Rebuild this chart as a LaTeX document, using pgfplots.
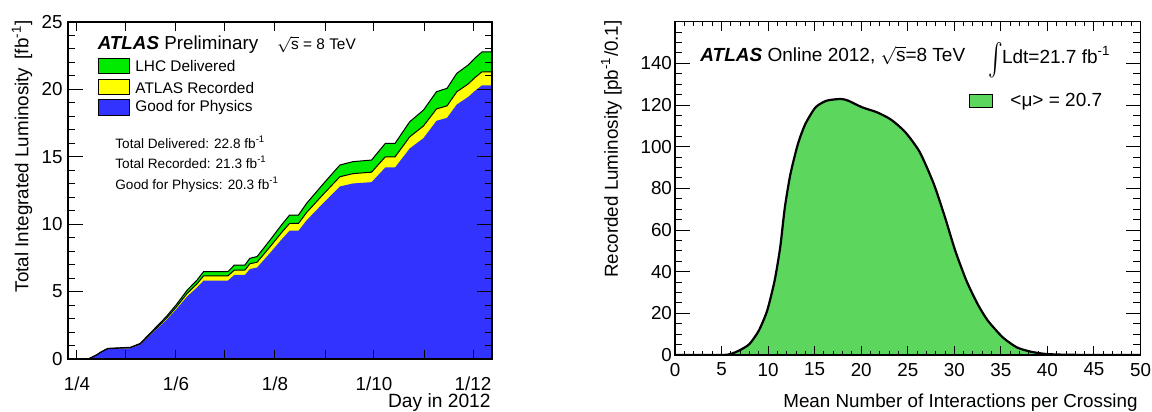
\documentclass[border=0pt]{standalone}
\usepackage{fontspec}
\setmainfont{Liberation Sans}
\usepackage{graphicx}
\usepackage{pgfplots}
\usepackage{pgfplotstable}
\pgfplotsset{compat=1.18}
\definecolor{lgreen}{RGB}{0,235,0}
\definecolor{lyellow}{RGB}{255,255,0}
\definecolor{lblue}{RGB}{51,51,255}
\definecolor{rgreen}{RGB}{92,214,92}

\pgfplotstableread{
day del rec good
86.5 0 0 0
99 0 0 0
104 0.30 0.29 0.28
107 0.54 0.52 0.50
111 0.79 0.76 0.73
125 0.87 0.84 0.80
131 1.16 1.11 1.06
136 1.78 1.70 1.63
142 2.52 2.41 2.31
147 3.14 3.00 2.88
153 4.00 3.82 3.66
160 5.12 4.88 4.66
166 5.86 5.58 5.31
170 6.48 6.16 5.81
185 6.48 6.16 5.81
189 6.97 6.60 6.24
195.5 6.97 6.60 6.24
198.5 7.47 7.06 6.67
203 7.60 7.18 6.79
211 8.83 8.33 7.87
218 9.94 9.37 8.86
223 10.68 10.06 9.52
228.5 10.68 10.06 9.52
233.5 11.55 10.87 10.29
244 13.03 12.25 11.60
254 14.39 13.52 12.80
262 14.64 13.75 13.02
273.5 14.76 13.86 13.12
282 16.00 15.00 14.21
288 16.00 15.00 14.21
297 17.60 16.48 15.62
305.5 18.47 17.29 16.39
313.5 19.83 18.55 17.67
320 20.08 18.78 17.89
326 21.19 19.82 18.88
333 21.81 20.40 19.44
337 22.30 20.86 19.87
341.5 22.78 21.30 20.30
348 22.78 21.30 20.30
}\lumi

\pgfplotstableread{
mu lumi
0 0
5.0 0
6.0 0.5
7.0 2.4
8.0 5.3
9.0 11.7
9.9 21.3
10.7 35.7
11.3 51.7
11.8 70.9
12.4 86.9
13.2 101.3
14.0 110.9
15.1 118.9
16.3 122.1
17.8 122.9
18.6 122.1
20.1 118.9
21.7 116.5
23.2 113.0
24.75 106.9
26.3 97.3
27.8 82.1
29.0 66.1
30.1 50.1
31.3 35.7
32.5 24.5
33.6 16.5
35.2 8.5
36.7 3.7
38.2 1.6
39.8 0.5
41.7 0.16
44.8 0
50 0
}\pileup

\pgfplotsset{
  rootstyle/.style={
    scale only axis,
    anchor=south west,
    axis on top,
    tick align=inside,
    xtick pos=both, ytick pos=both,
    xticklabel pos=bottom, yticklabel pos=left,
    axis line style={line width=0.6pt},
    every tick/.style={black, line width=0.5pt},
    ticklabel style={font=\fontsize{9.4}{11}\selectfont},
    /pgf/number format/assume math mode=true,
    xtick style={/pgfplots/major tick length=4.5pt, /pgfplots/minor tick length=2.2pt},
    ytick style={/pgfplots/major tick length=7.5pt, /pgfplots/minor tick length=3.7pt},
  }
}

\begin{document}
\begin{tikzpicture}[x=1pt,y=1pt]
\useasboundingbox (0,0) rectangle (576,206);

% ---------- left panel ----------
\begin{axis}[rootstyle,
  at={(34pt,26.5pt)}, width=212pt, height=168.5pt,
  xmin=86.5, xmax=347.7, ymin=0, ymax=25,
  xtick={92,122,153,183,214,245,275,306,336},
  xticklabels={1/4,,1/6,,1/8,,1/10,,1/12},
  xticklabel style={yshift=-5.5pt},
  ytick={0,5,...,25}, minor y tick num=4,
  yticklabel style={xshift=0.8pt},
]
\addplot[draw=none, fill=lgreen] table[x=day,y=del]{\lumi} \closedcycle;
\addplot[draw=none, fill=lyellow] table[x=day,y=rec]{\lumi} \closedcycle;
\addplot[draw=none, fill=lblue] table[x=day,y=good]{\lumi} \closedcycle;
\addplot[black, line width=0.5pt, no marks] table[x=day,y=del]{\lumi};
\addplot[black, line width=0.5pt, no marks] table[x=day,y=rec]{\lumi};
\end{axis}

\node[rotate=90, anchor=east, inner sep=0, font=\fontsize{9.4}{11}\selectfont] at (11,196) {Total Integrated Luminosity \,[fb\textsuperscript{-1}]};
\node[anchor=base east, inner sep=0, font=\fontsize{9.6}{11}\selectfont] at (245.5,2.1) {Day in 2012};

\node[anchor=base west, inner sep=0, font=\fontsize{9.4}{11}\selectfont] at (48.7,181) {\textbf{\textit{ATLAS}} Preliminary};
\node[anchor=base west, inner sep=0, font=\fontsize{7.7}{9}\selectfont] at (138.3,181) {$\sqrt{\mbox{s}}$ = 8 TeV};

\filldraw[fill=lgreen, draw=black, line width=0.5pt] (49.2,169.3) rectangle (64.7,176.5);
\filldraw[fill=lyellow, draw=black, line width=0.5pt] (49.2,158.5) rectangle (64.7,166);
\filldraw[fill=lblue, draw=black, line width=0.5pt] (49.2,148) rectangle (64.7,156);
\node[anchor=base west, inner sep=0, font=\fontsize{7.7}{9}\selectfont] at (67.5,170.2) {LHC Delivered};
\node[anchor=base west, inner sep=0, font=\fontsize{7.7}{9}\selectfont] at (67.5,159.3) {ATLAS Recorded};
\node[anchor=base west, inner sep=0, font=\fontsize{7.7}{9}\selectfont] at (67.5,150.2) {Good for Physics};

\node[anchor=base west, inner sep=0, font=\fontsize{6.8}{8}\selectfont] at (57.5,131.8) {Total Delivered: 22.8 fb\textsuperscript{-1}};
\node[anchor=base west, inner sep=0, font=\fontsize{6.8}{8}\selectfont] at (57.5,121.5) {Total Recorded: 21.3 fb\textsuperscript{-1}};
\node[anchor=base west, inner sep=0, font=\fontsize{6.8}{8}\selectfont] at (57.5,111) {Good for Physics: 20.3 fb\textsuperscript{-1}};

% ---------- right panel ----------
\begin{axis}[rootstyle,
  at={(337.5pt,28.5pt)}, width=232.75pt, height=166.65pt,
  xmin=0, xmax=50, ymin=0, ymax=160,
  xtick={0,5,...,50}, minor x tick num=4,
  ytick={0,20,...,160}, yticklabels={0,20,40,60,80,100,120,140,},
  minor y tick num=3,
  yticklabel style={xshift=2pt},
  xticklabel style={yshift=-0.5pt},
]
\addplot[draw=none, fill=rgreen] table[x=mu,y=lumi]{\pileup} \closedcycle;
\addplot[black, line width=1.1pt, no marks, smooth, tension=0.4] table[x=mu,y=lumi]{\pileup};
\end{axis}

\node[rotate=90, anchor=east, inner sep=0, font=\fontsize{9.4}{11}\selectfont] at (305.7,196) {Recorded Luminosity [pb\textsuperscript{-1}/0.1]};
\node[anchor=base east, inner sep=0, font=\fontsize{9.4}{11}\selectfont] at (569,2.4) {Mean Number of Interactions per Crossing};

\node[anchor=base west, inner sep=0, font=\fontsize{9.5}{11}\selectfont] at (350,175.2) {\textbf{\textit{ATLAS}} Online 2012, $\sqrt{\mbox{s}}$=8 TeV};
\node[anchor=center, inner sep=0, font=\fontsize{11}{13}\selectfont] at (498,175.7) {\scalebox{1.1}[1.6]{$\int$}};
\node[anchor=base west, inner sep=0, font=\fontsize{9.5}{11}\selectfont] at (500.8,174.3) {Ldt=21.7 fb\textsuperscript{-1}};

\filldraw[fill=rgreen, draw=black, line width=0.5pt] (484.5,152.2) rectangle (496.3,158.5);
\node[anchor=base west, inner sep=0, font=\fontsize{9.5}{11}\selectfont] at (505,152.7) {<μ> = 20.7};
\end{tikzpicture}
\end{document}
